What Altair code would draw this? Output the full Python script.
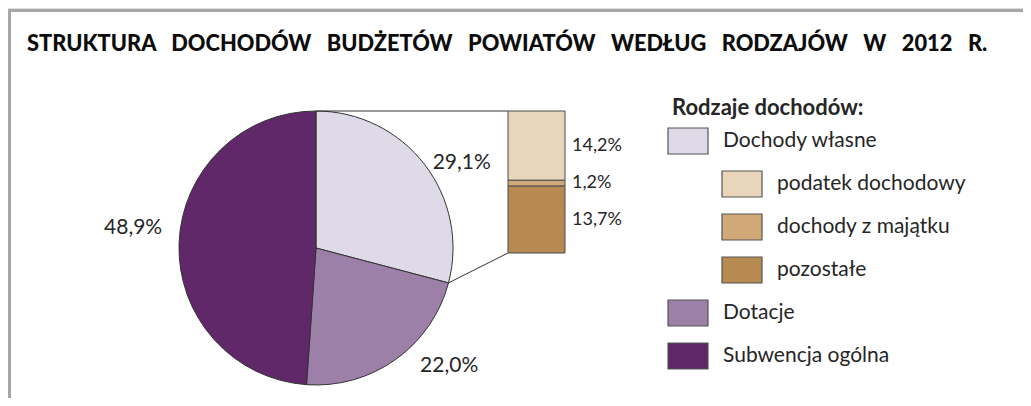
import math
import altair as alt
import pandas as pd

# ---------------- data ----------------
title_words = ["STRUKTURA", "DOCHODÓW", "BUDŻETÓW", "POWIATÓW", "WEDŁUG",
               "RODZAJÓW", "W", "2012", "R."]
legend_title = "Rodzaje dochodów:"
main_labels = ["Dochody własne", "Dotacje", "Subwencja ogólna"]
main_values = [29.1, 22.0, 48.9]
main_texts = ["29,1%", "22,0%", "48,9%"]
sub_labels = ["podatek dochodowy", "dochody z majątku", "pozostałe"]
sub_values = [14.2, 1.2, 13.7]
sub_texts = ["14,2%", "1,2%", "13,7%"]
main_colors = ["#DFDAE8", "#9C80A8", "#602769"]
sub_colors = ["#E9D5B9", "#D1A979", "#B68A50"]

# ---------------- layout ----------------
W, H = 1015, 390
CX, CY, R = 308, 240, 137
BAR_X0, BAR_X1, BAR_TOP, BAR_BOT = 500, 557, 103, 245
FONT = "Lato"
TXT = "#262626"
# wide word gaps (SVG collapses plain spaces, so pad with no-break spaces)
title_svg = (" " + "\u00a0" * 2).join(title_words)

color_scale = alt.Scale(domain=main_labels + sub_labels, range=main_colors + sub_colors)
theta_scale = alt.Scale(domain=[0, 100], range=[0, 2 * math.pi])

main_df = pd.DataFrame({"label": main_labels, "value": main_values,
                        "text": main_texts, "idx": range(len(main_labels))})
sub_df = pd.DataFrame({"label": sub_labels, "value": sub_values,
                       "text": sub_texts, "idx": range(len(sub_labels))})
legend_items = main_labels[:1] + sub_labels + main_labels[1:]
legend_df = pd.DataFrame({"label": legend_items,
                          "indent": [1 if l in sub_labels else 0 for l in legend_items],
                          "row": range(len(legend_items))})

# frame
frame_df = pd.DataFrame({"k": [0]})
frame_top = alt.Chart(frame_df).mark_rule(color="#A6A6A6", strokeWidth=3).encode(
    x=alt.value(0), x2=alt.value(W), y=alt.value(2.5), y2=alt.value(2.5))
frame_left = alt.Chart(frame_df).mark_rule(color="#A6A6A6", strokeWidth=3).encode(
    x=alt.value(1.5), x2=alt.value(1.5), y=alt.value(1), y2=alt.value(H))

title = alt.Chart(pd.DataFrame({"t": [title_svg]})).mark_text(
    align="left", baseline="alphabetic", font=FONT, fontSize=21.8, fontWeight=900,
    color="#0d0d0d").encode(x=alt.value(19), y=alt.value(43), text="t:N")

# pie
pie = alt.Chart(main_df).mark_arc(outerRadius=R, stroke="#333333", strokeWidth=1).encode(
    theta=alt.Theta("value:Q", stack=True, scale=theta_scale),
    color=alt.Color("label:N", scale=color_scale, legend=None),
    order=alt.Order("idx:Q"),
    x=alt.value(CX), y=alt.value(CY))

label_base = alt.Chart(main_df).transform_window(
    cum="sum(value)", sort=[{"field": "idx"}]
).transform_calculate(mid="datum.cum - datum.value / 2")
nudges = [(15, 16), (37, -16), (-18, -14)]
pie_labels = []
for i, (dx, dy) in enumerate(nudges):
    pie_labels.append(label_base.transform_filter(f"datum.idx == {i}").mark_text(
        radius=165, dx=dx, dy=dy, font=FONT, fontSize=21, color=TXT).encode(
        theta=alt.Theta("mid:Q", scale=theta_scale),
        text="text:N", x=alt.value(CX), y=alt.value(CY)))

# connector lines
ang = 2 * math.pi * main_values[0] / 100
ex, ey = CX + R * math.sin(ang), CY - R * math.cos(ang)
conn_top = alt.Chart(frame_df).mark_rule(color="#333333", strokeWidth=1).encode(
    x=alt.value(CX), y=alt.value(CY - R), x2=alt.value(BAR_X0), y2=alt.value(BAR_TOP))
conn_bot = alt.Chart(frame_df).mark_rule(color="#333333", strokeWidth=1).encode(
    x=alt.value(ex), y=alt.value(ey), x2=alt.value(BAR_X0), y2=alt.value(BAR_BOT))

# stacked bar (bottom: pozostałe, top: podatek dochodowy)
bar_scale = alt.Scale(domain=[0, sum(sub_values)], range=[BAR_BOT, BAR_TOP])
bar_base = alt.Chart(sub_df).transform_window(
    cum="sum(value)", sort=[{"field": "idx", "order": "descending"}]
).transform_calculate(start="datum.cum - datum.value",
                      mid="datum.cum - datum.value / 2")
bar = bar_base.mark_rect(stroke="#4d4d4d", strokeWidth=1).encode(
    x=alt.value(BAR_X0), x2=alt.value(BAR_X1),
    y=alt.Y("cum:Q", scale=bar_scale, axis=None), y2="start:Q",
    color=alt.Color("label:N", scale=color_scale, legend=None))
bar_labels = bar_base.mark_text(
    align="left", baseline="middle", font=FONT, fontSize=18, color=TXT).encode(
    x=alt.value(564), y=alt.Y("mid:Q", scale=bar_scale, axis=None), text="text:N")

# legend
leg = alt.Chart(legend_df).transform_calculate(
    sx="660 + 54 * datum.indent", sx2="700 + 54 * datum.indent",
    cy="133 + 43 * datum.row", sy="120 + 43 * datum.row", sy2="146 + 43 * datum.row",
    tx="715 + 54 * datum.indent")
leg_sw = leg.mark_rect(stroke="#555555", strokeWidth=1.2).encode(
    x=alt.X("sx:Q", scale=None, axis=None), x2="sx2:Q",
    y=alt.Y("sy:Q", scale=None, axis=None), y2="sy2:Q",
    color=alt.Color("label:N", scale=color_scale, legend=None))
leg_tx = leg.mark_text(align="left", baseline="middle", font=FONT, fontSize=21,
                       color=TXT).encode(
    x=alt.X("tx:Q", scale=None, axis=None),
    y=alt.Y("cy:Q", scale=None, axis=None), text="label:N")
leg_title = alt.Chart(pd.DataFrame({"t": [legend_title]})).mark_text(
    align="left", baseline="middle", font=FONT, fontSize=22, fontWeight="bold",
    color=TXT).encode(x=alt.value(664), y=alt.value(100), text="t:N")

chart = alt.layer(
    frame_top, frame_left, title, pie, *pie_labels, conn_top, conn_bot,
    bar, bar_labels, leg_sw, leg_tx, leg_title
).resolve_scale(y="independent", x="independent").properties(
    width=W, height=H, padding=0, autosize=alt.AutoSizeParams(type="none")
).configure_view(stroke=None).configure(background="white")

chart.save("out.html", embed_options={"renderer": "svg", "actions": False})
